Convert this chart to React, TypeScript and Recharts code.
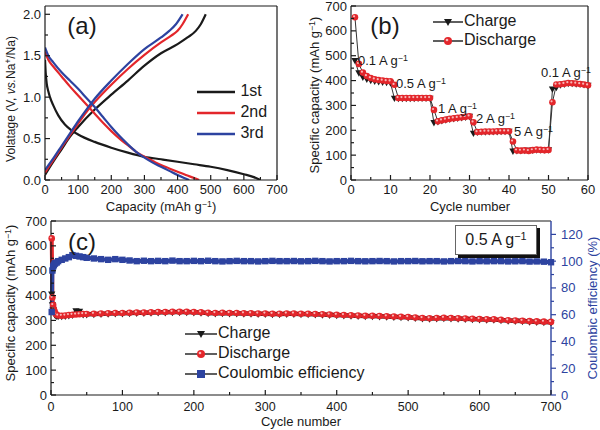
import React from "react";
import { LineChart, Line, XAxis, YAxis, ReferenceLine } from "recharts";

const FONT = '"Liberation Sans", Arial, Helvetica, sans-serif';
const INK = "#1a1a1a";
const RED = "#e3262b";
const BLUE = "#2d43a0";

// (a) galvanostatic curves: [capacity mAh/g, voltage V]
const dis1st: [number, number][] = [[0, 1.45], [2, 1.3], [5, 1.17], [10, 1.07], [15, 1.0], [25, 0.9], [40, 0.78], [60, 0.67], [80, 0.6], [100, 0.55], [150, 0.46], [200, 0.39], [250, 0.33], [300, 0.28], [350, 0.25], [400, 0.22], [450, 0.19], [500, 0.16], [550, 0.12], [600, 0.07], [630, 0.035], [650, 0]];
const chg1st: [number, number][] = [[0, 0.06], [25, 0.22], [50, 0.37], [75, 0.52], [100, 0.64], [150, 0.85], [200, 1.03], [250, 1.2], [300, 1.38], [350, 1.53], [400, 1.64], [430, 1.72], [455, 1.8], [470, 1.88], [485, 2.0]];
const dis2nd: [number, number][] = [[0, 1.55], [10, 1.45], [25, 1.37], [50, 1.25], [75, 1.13], [100, 1.02], [125, 0.91], [150, 0.8], [175, 0.69], [200, 0.59], [225, 0.5], [250, 0.42], [275, 0.34], [300, 0.28], [325, 0.23], [350, 0.18], [375, 0.14], [400, 0.1], [425, 0.06], [450, 0.025], [465, 0]];
const chg2nd: [number, number][] = [[0, 0.09], [25, 0.24], [50, 0.39], [75, 0.54], [100, 0.68], [125, 0.82], [150, 0.94], [200, 1.15], [250, 1.34], [300, 1.51], [350, 1.66], [380, 1.74], [400, 1.8], [415, 1.88], [432, 2.0]];
const dis3rd: [number, number][] = [[0, 1.6], [10, 1.5], [25, 1.42], [50, 1.3], [75, 1.2], [100, 1.1], [125, 0.99], [150, 0.88], [175, 0.76], [200, 0.64], [225, 0.53], [250, 0.43], [275, 0.34], [300, 0.27], [325, 0.21], [350, 0.16], [375, 0.11], [400, 0.06], [420, 0.025], [435, 0]];
const chg3rd: [number, number][] = [[0, 0.12], [25, 0.26], [50, 0.41], [75, 0.56], [100, 0.71], [125, 0.85], [150, 0.98], [200, 1.2], [250, 1.4], [300, 1.58], [350, 1.72], [375, 1.8], [395, 1.88], [415, 2.0]];

// (b) rate capability
const cyclesB = Array.from({ length: 60 }, (_, i) => i + 1);
const chargeB = [480, 430, 413, 405, 400, 397, 395, 393, 392, 390, 328, 327, 327, 327, 327, 327, 328, 328, 328, 328, 230, 234, 238, 241, 244, 246, 248, 250, 252, 255, 187, 191, 193, 193, 194, 194, 194, 195, 195, 195, 115, 117, 117, 118, 118, 119, 120, 120, 120, 120, 365, 372, 382, 385, 388, 388, 386, 385, 383, 380];
const dischargeB = [655, 467, 432, 418, 410, 405, 402, 400, 398, 397, 383, 330, 330, 330, 330, 330, 330, 330, 330, 330, 282, 236, 240, 243, 246, 248, 250, 252, 254, 256, 232, 193, 194, 195, 195, 195, 196, 196, 196, 196, 155, 119, 118, 119, 117, 120, 122, 121, 120, 121, 313, 384, 385, 387, 390, 389, 388, 386, 384, 381];

// (c) long cycling at 0.5 A/g
const cyclesC = [1, 2, 3, 4, 5, 6, 8, 10, 15, 20, 25, 30, 35, 40, 45, 50, 60, 70, 80, 90, 100, 110, 120, 130, 140, 150, 160, 170, 180, 190, 200, 210, 220, 230, 240, 250, 260, 270, 280, 290, 300, 310, 320, 330, 340, 350, 360, 370, 380, 390, 400, 410, 420, 430, 440, 450, 460, 470, 480, 490, 500, 510, 520, 530, 540, 550, 560, 570, 580, 590, 600, 610, 620, 630, 640, 650, 660, 670, 680, 690, 700];
const chargeC = [405, 362, 342, 332, 324, 319, 316, 315, 315, 316, 318, 320, 338, 336, 322, 322, 323, 324, 325, 326, 326, 327, 328, 328, 329, 330, 330, 331, 331, 331, 330, 329, 327, 326, 327, 326, 326, 325, 325, 324, 324, 323, 323, 324, 324, 323, 323, 322, 321, 320, 319, 318, 317, 316, 315, 315, 314, 313, 312, 311, 310, 308, 306, 305, 306, 307, 306, 305, 304, 303, 302, 301, 301, 299, 297, 296, 295, 293, 292, 291, 290];
const dischargeC = [630, 392, 362, 346, 336, 329, 323, 320, 319, 320, 322, 323, 324, 325, 326, 326, 327, 328, 329, 330, 330, 331, 332, 332, 333, 334, 334, 335, 335, 335, 334, 333, 331, 330, 331, 330, 330, 329, 329, 328, 328, 327, 327, 328, 328, 327, 327, 326, 325, 324, 323, 322, 321, 320, 319, 319, 318, 317, 316, 315, 314, 312, 310, 309, 310, 311, 310, 309, 308, 307, 306, 305, 305, 303, 301, 300, 299, 297, 296, 295, 294];
const ceC = [62, 93, 96, 97, 98, 98.5, 99, 100, 101, 102, 103, 104.5, 104, 103.5, 103, 102.5, 102, 101.5, 101, 101.5, 101, 100.5, 100, 100.3, 100, 100.2, 100, 100.4, 100, 100, 100.2, 100, 100.3, 100, 99.8, 100, 100.2, 100, 100, 99.8, 100, 100.2, 100, 100, 100.1, 99.9, 100, 100.2, 100, 99.8, 100, 100, 100.2, 100, 99.9, 100, 100.1, 100, 99.8, 100, 100, 100.1, 99.9, 100, 100, 99.8, 100, 100.1, 100, 99.8, 100, 99.9, 100, 100, 99.8, 99.9, 100, 99.7, 99.8, 99.6, 99.2];

const toPts = (arr: [number, number][]) => arr.map(([c, v]) => ({ c, v }));
const tableB = cyclesB.map((c, i) => ({ c, ch: chargeB[i], dis: dischargeB[i] }));
const tableC = cyclesC.map((c, i) => ({ c, ch: chargeC[i], dis: dischargeC[i], ce: ceC[i] }));

const makeTick = (side: "bottom" | "left" | "right", majors: number[], fmt: (v: number) => string, color = INK, gap = 14, size = 13) => (p: any) => {
  const { x, y, payload } = p;
  const v = payload.value;
  const major = majors.some((m) => Math.abs(m - v) < 1e-9);
  const len = major ? 5 : 3;
  const common = { fontSize: size, fill: color, fontFamily: FONT };
  if (side === "bottom")
    return (
      <g>
        <line x1={x} x2={x} y1={y} y2={y - len} stroke={color} strokeWidth={1.2} />
        {major && <text x={x} y={y + gap} textAnchor="middle" {...common}>{fmt(v)}</text>}
      </g>
    );
  if (side === "left")
    return (
      <g>
        <line x1={x} x2={x + len} y1={y} y2={y} stroke={color} strokeWidth={1.2} />
        {major && <text x={x - 4} y={y + 4.5} textAnchor="end" {...common}>{fmt(v)}</text>}
      </g>
    );
  return (
    <g>
      <line x1={x} x2={x + len} y1={y} y2={y} stroke={color} strokeWidth={1.2} />
      {major && <text x={x + gap} y={y + 4.5} textAnchor="start" {...common}>{fmt(v)}</text>}
    </g>
  );
};

const TriDown = (p: any) => {
  const { cx, cy, index } = p;
  if (cx == null || cy == null) return <g key={`t${index}`} />;
  return <path key={`t${index}`} d={`M${cx - 3.6},${cy - 2.8} L${cx + 3.6},${cy - 2.8} L${cx},${cy + 3.6} Z`} fill={INK} />;
};
const Ball = (p: any) => {
  const { cx, cy, index } = p;
  if (cx == null || cy == null) return <g key={`b${index}`} />;
  return (
    <g key={`b${index}`}>
      <circle cx={cx} cy={cy} r={3.3} fill={RED} />
      <circle cx={cx - 0.9} cy={cy - 0.9} r={1.1} fill="#f7b9b9" />
    </g>
  );
};
const Sq = (p: any) => {
  const { cx, cy, index } = p;
  if (cx == null || cy == null) return <g key={`s${index}`} />;
  return <rect key={`s${index}`} x={cx - 3.2} y={cy - 3.2} width={6.4} height={6.4} fill={BLUE} />;
};

const Sup = ({ children }: any) => (
  <span style={{ fontSize: "0.68em", position: "relative", top: "-0.5em" }}>{children}</span>
);

const Txt = ({ x, y, size = 13, color = INK, rot = false, anchor = "middle", children }: any) => {
  const tx = anchor === "middle" ? "-50%" : anchor === "end" ? "-100%" : "0";
  return (
    <div
      style={{
        position: "absolute",
        left: x,
        top: y,
        fontSize: size,
        color,
        whiteSpace: "nowrap",
        lineHeight: 1,
        transform: `translate(${tx}, -50%)${rot ? " rotate(-90deg)" : ""}`,
      }}
    >
      {children}
    </div>
  );
};

const LegendMark = ({ kind, line = INK, w = 32 }: any) => (
  <svg width={w} height={10} style={{ verticalAlign: "middle", marginRight: 1 }}>
    <line x1={0} x2={w} y1={5} y2={5} stroke={line} strokeWidth={kind === "plain" ? 2.5 : 1.4} />
    {kind === "tri" && <path d={`M${w / 2 - 4},${2} L${w / 2 + 4},${2} L${w / 2},${9} Z`} fill={INK} />}
    {kind === "ball" && (
      <g>
        <circle cx={w / 2} cy={5} r={4} fill={RED} />
        <circle cx={w / 2 - 1} cy={4} r={1.3} fill="#f7b9b9" />
      </g>
    )}
    {kind === "sq" && <rect x={w / 2 - 4} y={1} width={8} height={8} fill={BLUE} />}
  </svg>
);

const axisLine = { stroke: INK, strokeWidth: 1.2 };

export default function App() {
  return (
    <div style={{ position: "absolute", left: 0, top: 0, width: 600, height: 430, background: "#fff", fontFamily: FONT, color: INK, overflow: "hidden" }}>
      {/* (a) */}
      <div style={{ position: "absolute", left: 0, top: 0 }}>
        <LineChart width={300} height={215} margin={{ top: 6, right: 23, bottom: 0, left: 0 }}>
          <XAxis type="number" dataKey="c" domain={[0, 700]} ticks={[0, 50, 100, 150, 200, 250, 300, 350, 400, 450, 500, 550, 600, 650, 700]} interval={0} tickSize={0} tickMargin={0} tickLine={false} axisLine={axisLine} height={35} tick={makeTick("bottom", [0, 100, 200, 300, 400, 500, 600, 700], (v) => String(v))} allowDataOverflow />
          <YAxis type="number" domain={[0, 2.1]} ticks={[0, 0.25, 0.5, 0.75, 1, 1.25, 1.5, 1.75, 2]} interval={0} tickSize={0} tickMargin={0} tickLine={false} axisLine={axisLine} width={45} tick={makeTick("left", [0, 0.5, 1, 1.5, 2], (v) => v.toFixed(1))} allowDataOverflow />
          <ReferenceLine y={2.1} stroke={INK} strokeWidth={1.2} />
          <ReferenceLine x={700} stroke={INK} strokeWidth={1.2} />
          <Line data={toPts(dis1st)} dataKey="v" type="monotone" stroke={INK} strokeWidth={2.2} dot={false} isAnimationActive={false} />
          <Line data={toPts(chg1st)} dataKey="v" type="monotone" stroke={INK} strokeWidth={2.2} dot={false} isAnimationActive={false} />
          <Line data={toPts(dis2nd)} dataKey="v" type="monotone" stroke={RED} strokeWidth={2.2} dot={false} isAnimationActive={false} />
          <Line data={toPts(chg2nd)} dataKey="v" type="monotone" stroke={RED} strokeWidth={2.2} dot={false} isAnimationActive={false} />
          <Line data={toPts(dis3rd)} dataKey="v" type="monotone" stroke={BLUE} strokeWidth={2.2} dot={false} isAnimationActive={false} />
          <Line data={toPts(chg3rd)} dataKey="v" type="monotone" stroke={BLUE} strokeWidth={2.2} dot={false} isAnimationActive={false} />
        </LineChart>
      </div>

      {/* (b) */}
      <div style={{ position: "absolute", left: 300, top: 0 }}>
        <LineChart width={300} height={215} data={tableB} margin={{ top: 6, right: 12, bottom: 0, left: 0 }}>
          <XAxis type="number" dataKey="c" domain={[0, 60]} ticks={[0, 5, 10, 15, 20, 25, 30, 35, 40, 45, 50, 55, 60]} interval={0} tickSize={0} tickMargin={0} tickLine={false} axisLine={axisLine} height={35} tick={makeTick("bottom", [0, 10, 20, 30, 40, 50, 60], (v) => String(v))} />
          <YAxis type="number" domain={[0, 700]} ticks={[0, 50, 100, 150, 200, 250, 300, 350, 400, 450, 500, 550, 600, 650, 700]} interval={0} tickSize={0} tickMargin={0} tickLine={false} axisLine={axisLine} width={51} tick={makeTick("left", [0, 100, 200, 300, 400, 500, 600, 700], (v) => String(v))} />
          <ReferenceLine y={700} stroke={INK} strokeWidth={1.2} />
          <ReferenceLine x={60} stroke={INK} strokeWidth={1.2} />
          <Line dataKey="ch" type="linear" stroke="#333" strokeWidth={1} dot={TriDown} isAnimationActive={false} />
          <Line dataKey="dis" type="linear" stroke="#333" strokeWidth={1} dot={Ball} isAnimationActive={false} />
        </LineChart>
      </div>

      {/* (c) */}
      <div style={{ position: "absolute", left: 0, top: 215 }}>
        <LineChart width={600} height={215} data={tableC} margin={{ top: 6, right: 0, bottom: 0, left: 0 }}>
          <XAxis type="number" dataKey="c" domain={[0, 700]} ticks={[0, 50, 100, 150, 200, 250, 300, 350, 400, 450, 500, 550, 600, 650, 700]} interval={0} tickSize={0} tickMargin={0} tickLine={false} axisLine={axisLine} height={35} tick={makeTick("bottom", [0, 100, 200, 300, 400, 500, 600, 700], (v) => String(v), INK, 15.5, 12.5)} />
          <YAxis yAxisId="l" type="number" domain={[0, 700]} ticks={[0, 50, 100, 150, 200, 250, 300, 350, 400, 450, 500, 550, 600, 650, 700]} interval={0} tickSize={0} tickMargin={0} tickLine={false} axisLine={axisLine} width={51} tick={makeTick("left", [0, 100, 200, 300, 400, 500, 600, 700], (v) => String(v))} />
          <YAxis yAxisId="r" orientation="right" type="number" domain={[0, 130]} ticks={[0, 10, 20, 30, 40, 50, 60, 70, 80, 90, 100, 110, 120]} interval={0} tickSize={0} tickMargin={0} tickLine={false} axisLine={{ stroke: BLUE, strokeWidth: 1.4 }} width={49} tick={makeTick("right", [0, 20, 40, 60, 80, 100, 120], (v) => String(v), BLUE, 10)} />
          <ReferenceLine yAxisId="l" y={700} stroke={INK} strokeWidth={1.2} />
          <Line yAxisId="l" dataKey="ch" type="linear" stroke={INK} strokeWidth={3} dot={TriDown} isAnimationActive={false} />
          <Line yAxisId="l" dataKey="dis" type="linear" stroke={RED} strokeWidth={4} dot={Ball} isAnimationActive={false} />
          <Line yAxisId="r" dataKey="ce" type="linear" stroke={BLUE} strokeWidth={4} dot={Sq} isAnimationActive={false} />
        </LineChart>
      </div>

      {/* panel (a) text */}
      <Txt x={82} y={26} size={24} anchor="middle">(a)</Txt>
      <Txt x={11} y={99} size={12} rot>
        Volatage (V, <i>vs.</i>Na<Sup>+</Sup>/Na)
      </Txt>
      <Txt x={161} y={206}>Capacity (mAh g<Sup>−1</Sup>)</Txt>
      <div style={{ position: "absolute", left: 197, top: 80, fontSize: 16, lineHeight: "21px" }}>
        <div><LegendMark kind="plain" line={INK} w={38} /> 1st</div>
        <div><LegendMark kind="plain" line={RED} w={38} /> 2nd</div>
        <div><LegendMark kind="plain" line={BLUE} w={38} /> 3rd</div>
      </div>

      {/* panel (b) text */}
      <Txt x={385} y={26} size={24}>(b)</Txt>
      <Txt x={314} y={95} rot>Specific capacity (mAh g<Sup>−1</Sup>)</Txt>
      <Txt x={470} y={206}>Cycle number</Txt>
      <div style={{ position: "absolute", left: 433, top: 11, fontSize: 16, lineHeight: "19px" }}>
        <div><LegendMark kind="tri" w={30} />Charge</div>
        <div><LegendMark kind="ball" w={30} />Discharge</div>
      </div>
      <Txt x={358} y={60} anchor="start">0.1 A g<Sup>−1</Sup></Txt>
      <Txt x={396} y={83} anchor="start">0.5 A g<Sup>−1</Sup></Txt>
      <Txt x={438} y={108} anchor="start">1 A g<Sup>−1</Sup></Txt>
      <Txt x={476} y={118} anchor="start">2 A g<Sup>−1</Sup></Txt>
      <Txt x={514} y={131} anchor="start">5 A g<Sup>−1</Sup></Txt>
      <Txt x={541} y={72} anchor="start">0.1 A g<Sup>−1</Sup></Txt>

      {/* panel (c) text */}
      <Txt x={82} y={242} size={24}>(c)</Txt>
      <Txt x={10} y={303} rot>Specific capacity (mAh g<Sup>−1</Sup>)</Txt>
      <Txt x={592} y={308} rot color={BLUE}>Coulombic efficiency (%)</Txt>
      <Txt x={301} y={421}>Cycle number</Txt>
      <div style={{ position: "absolute", left: 185, top: 323, fontSize: 16, lineHeight: "20px" }}>
        <div><LegendMark kind="tri" w={32} />Charge</div>
        <div><LegendMark kind="ball" w={32} />Discharge</div>
        <div><LegendMark kind="sq" w={32} />Coulombic efficiency</div>
      </div>
      <div style={{ position: "absolute", left: 455, top: 225, width: 80, height: 28, border: "1px solid #666", background: "#fff", boxShadow: "3px 3px 0 #111", fontSize: 16, lineHeight: "28px", textAlign: "center" }}>
        0.5 A g<Sup>−1</Sup>
      </div>
    </div>
  );
}
